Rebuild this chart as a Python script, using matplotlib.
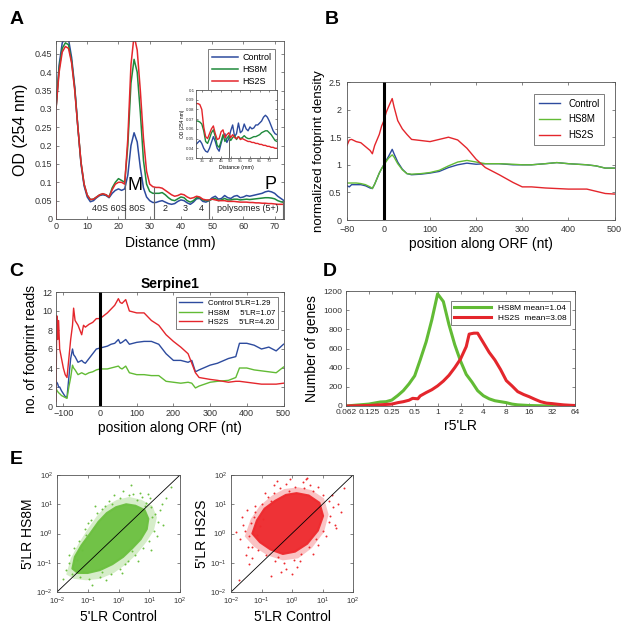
import numpy as np
import matplotlib
matplotlib.use("Agg")
import matplotlib.pyplot as plt
from matplotlib.patches import Polygon

plt.rcParams['font.family'] = ['Liberation Sans', 'DejaVu Sans']

# ---------------- Panel A data ----------------
a_dist = list(range(0, 74))
a_control = [0.30, 0.42, 0.48, 0.495, 0.49, 0.44, 0.36, 0.25, 0.15, 0.09, 0.06, 0.047, 0.05, 0.058, 0.064, 0.066,
             0.064, 0.058, 0.07, 0.078, 0.082, 0.078, 0.082, 0.12, 0.20, 0.235, 0.21, 0.14, 0.085, 0.06, 0.05, 0.045,
             0.045, 0.048, 0.05, 0.046, 0.042, 0.04, 0.042, 0.048, 0.052, 0.05, 0.044, 0.04, 0.046, 0.055, 0.056,
             0.048, 0.046, 0.05, 0.058, 0.062, 0.054, 0.056, 0.064, 0.058, 0.056, 0.062, 0.064, 0.058, 0.06, 0.064,
             0.062, 0.064, 0.066, 0.068, 0.07, 0.074, 0.076, 0.074, 0.07, 0.062, 0.056, 0.05]
a_hs8m = [0.30, 0.41, 0.465, 0.48, 0.475, 0.43, 0.355, 0.25, 0.155, 0.095, 0.065, 0.053, 0.054, 0.06, 0.066, 0.068,
          0.066, 0.06, 0.085, 0.10, 0.11, 0.105, 0.10, 0.20, 0.37, 0.435, 0.40, 0.29, 0.16, 0.095, 0.075, 0.07,
          0.07, 0.07, 0.072, 0.066, 0.058, 0.052, 0.05, 0.055, 0.06, 0.058, 0.05, 0.046, 0.05, 0.058, 0.058,
          0.052, 0.05, 0.05, 0.054, 0.056, 0.05, 0.052, 0.056, 0.052, 0.052, 0.054, 0.054, 0.052, 0.053, 0.054,
          0.053, 0.054, 0.055, 0.056, 0.057, 0.058, 0.058, 0.057, 0.055, 0.05, 0.047, 0.045]
a_hs2s = [0.30, 0.40, 0.455, 0.47, 0.465, 0.425, 0.35, 0.25, 0.155, 0.095, 0.065, 0.053, 0.054, 0.06, 0.066, 0.069,
          0.066, 0.06, 0.08, 0.095, 0.10, 0.10, 0.095, 0.22, 0.42, 0.50, 0.46, 0.35, 0.22, 0.13, 0.095, 0.088,
          0.086, 0.086, 0.084, 0.078, 0.072, 0.066, 0.062, 0.064, 0.068, 0.066, 0.06, 0.056, 0.058, 0.062, 0.06,
          0.054, 0.052, 0.052, 0.054, 0.052, 0.05, 0.05, 0.05, 0.048, 0.048, 0.048, 0.047, 0.046, 0.046, 0.046,
          0.045, 0.045, 0.044, 0.044, 0.043, 0.043, 0.042, 0.042, 0.041, 0.04, 0.04, 0.04]
a_dividers = [22.2, 31.5, 49.0, 72.6]
a_divider_tops = [0.10, 0.088, 0.055, 0.05]
a_fraction_labels = ["40S 60S 80S", "2", "3", "4", "polysomes (5+)"]
a_fraction_x = [20.0, 35.0, 41.5, 46.5, 61.5]

# inset
in_dist = [32, 33, 34, 35, 36, 37, 38, 39, 40, 41, 42, 43, 44, 45, 46, 47, 48, 49, 50, 51, 52, 53, 54, 55, 56, 57,
           58, 59, 60, 61, 62, 63, 64, 65, 66, 67, 68, 69, 70, 71, 72, 73, 74]
in_control = [0.044, 0.046, 0.048, 0.045, 0.040, 0.037, 0.036, 0.040, 0.046, 0.052, 0.047, 0.040, 0.037, 0.045,
              0.052, 0.055, 0.046, 0.050, 0.058, 0.064, 0.052, 0.055, 0.066, 0.056, 0.058, 0.065, 0.060, 0.058,
              0.062, 0.060, 0.061, 0.064, 0.064, 0.066, 0.068, 0.072, 0.074, 0.072, 0.068, 0.063, 0.058, 0.055, 0.054]
in_hs8m = [0.068, 0.068, 0.067, 0.065, 0.058, 0.047, 0.045, 0.050, 0.056, 0.059, 0.052, 0.043, 0.041, 0.047,
           0.054, 0.047, 0.050, 0.053, 0.048, 0.051, 0.053, 0.049, 0.052, 0.050, 0.051, 0.053, 0.051, 0.050,
           0.050, 0.051, 0.052, 0.052, 0.053, 0.054, 0.056, 0.057, 0.058, 0.058, 0.056, 0.054, 0.051, 0.048, 0.047]
in_hs2s = [0.086, 0.086, 0.085, 0.080, 0.062, 0.052, 0.050, 0.055, 0.060, 0.063, 0.055, 0.049, 0.050, 0.057,
           0.059, 0.051, 0.054, 0.056, 0.051, 0.054, 0.051, 0.050, 0.052, 0.049, 0.050, 0.049, 0.048, 0.047,
           0.047, 0.046, 0.046, 0.045, 0.045, 0.044, 0.044, 0.043, 0.043, 0.042, 0.042, 0.041, 0.041, 0.040, 0.040]

# ---------------- Panel B data ----------------
b_pos = [-80, -75, -70, -60, -50, -40, -30, -25, -20, -10, -5, 0, 5, 10, 18, 22, 30, 40, 50, 60, 80, 100, 120,
         140, 160, 180, 200, 220, 250, 280, 300, 320, 350, 375, 400, 440, 460, 480, 500]
b_control = [0.62, 0.60, 0.64, 0.64, 0.64, 0.62, 0.58, 0.57, 0.65, 0.85, 0.93, 1.00, 1.08, 1.15, 1.28, 1.20,
             1.05, 0.92, 0.84, 0.82, 0.83, 0.85, 0.88, 0.95, 1.00, 1.03, 1.01, 1.02, 1.02, 1.00, 1.00, 1.00,
             1.02, 1.04, 1.02, 1.00, 0.98, 0.94, 0.94]
b_hs8m = [0.67, 0.67, 0.67, 0.67, 0.66, 0.64, 0.60, 0.57, 0.65, 0.85, 0.93, 1.00, 1.06, 1.12, 1.18, 1.14,
          1.02, 0.91, 0.84, 0.83, 0.84, 0.86, 0.90, 0.98, 1.05, 1.08, 1.05, 1.02, 1.02, 1.01, 1.00, 1.00,
          1.02, 1.04, 1.02, 1.00, 0.98, 0.94, 0.94]
b_hs2s = [1.35, 1.45, 1.46, 1.42, 1.40, 1.33, 1.26, 1.20, 1.35, 1.55, 1.70, 1.80, 1.95, 2.05, 2.20, 2.05,
          1.80, 1.65, 1.55, 1.46, 1.44, 1.42, 1.46, 1.50, 1.45, 1.30, 1.10, 0.95, 0.82, 0.68, 0.60, 0.60,
          0.58, 0.57, 0.56, 0.56, 0.52, 0.48, 0.47]

# ---------------- Panel C data ----------------
c_pos = [-120, -118, -117, -115, -113, -110, -105, -100, -95, -90, -85, -80, -75, -72, -68, -60, -55, -50, -45,
         -40, -30, -20, -10, 0, 10, 20, 30, 40, 50, 55, 60, 70, 80, 100, 120, 140, 160, 180, 200, 220, 240, 250,
         260, 270, 300, 320, 350, 370, 380, 400, 420, 440, 460, 480, 500]
c_control = [2.3, 2.5, 2.4, 2.3, 2.0, 2.0, 1.6, 1.3, 1.0, 0.9, 3.0, 5.0, 6.0, 5.4, 5.2, 4.6, 4.7, 4.8, 4.6,
             4.5, 5.0, 5.5, 6.0, 6.1, 6.2, 6.3, 6.5, 6.6, 7.0, 6.6, 6.7, 7.0, 6.5, 6.7, 6.8, 6.8, 6.5, 5.5, 4.8,
             4.8, 4.6, 4.8, 3.6, 3.8, 4.3, 4.5, 5.0, 5.2, 6.6, 6.6, 6.4, 6.0, 6.2, 5.8, 6.5]
c_hs8m = [1.8, 1.7, 1.6, 1.5, 1.4, 1.3, 1.1, 1.0, 0.9, 0.8, 2.0, 3.0, 4.3, 4.0, 3.8, 3.3, 3.4, 3.5, 3.4,
          3.3, 3.5, 3.6, 3.8, 3.9, 3.9, 3.9, 4.0, 4.1, 4.2, 4.0, 3.9, 4.2, 3.5, 3.3, 3.3, 3.2, 3.2, 2.6, 2.5,
          2.4, 2.5, 2.4, 1.9, 2.1, 2.5, 2.6, 2.7, 3.0, 4.0, 4.0, 3.8, 3.7, 3.6, 3.5, 4.1]
c_hs2s = [0.5, 9.5, 9.2, 7.0, 9.0, 6.0, 5.0, 4.0, 3.3, 3.0, 5.0, 7.0, 8.5, 10.3, 9.0, 8.5, 8.0, 7.5, 8.5,
          8.3, 8.6, 8.8, 9.2, 9.2, 9.5, 9.8, 10.2, 10.6, 11.3, 10.9, 10.8, 11.2, 10.0, 9.8, 9.8, 9.0, 8.5,
          7.5, 6.8, 6.2, 5.5, 4.5, 3.5, 3.0, 2.8, 2.7, 2.5, 2.6, 2.6, 2.5, 2.4, 2.3, 2.3, 2.3, 2.4]
c_legend = ["Control 5'LR=1.29", "HS8M     5'LR=1.07", "HS2S     5'LR=4.20"]

# ---------------- Panel D data ----------------
d_r_green = [0.0625, 0.125, 0.177, 0.21, 0.25, 0.30, 0.354, 0.42, 0.5, 0.59, 0.707, 0.84, 1.0, 1.19, 1.41,
             1.68, 2.0, 2.38, 2.83, 3.36, 4.0, 4.76, 5.66, 6.73, 8.0, 9.5, 11.3, 16, 32, 64]
d_n_green = [0, 20, 42, 45, 62, 110, 160, 230, 315, 480, 670, 900, 1170, 1090, 850, 640, 470, 330, 250, 160,
             107, 75, 55, 45, 35, 20, 12, 5, 0, 0]
d_r_red = [0.0625, 0.125, 0.25, 0.30, 0.354, 0.42, 0.47, 0.5, 0.55, 0.59, 0.707, 0.84, 1.0, 1.19, 1.41, 1.68,
           2.0, 2.38, 2.6, 3.0, 3.36, 3.6, 4.0, 4.76, 5.66, 6.73, 8.0, 9.5, 11.3, 13.5, 16, 19, 22.6, 27, 32,
           38, 45, 54, 64]
d_n_red = [0, 5, 20, 35, 45, 60, 80, 78, 75, 105, 140, 170, 210, 260, 320, 400, 490, 620, 750, 760, 760, 720,
           660, 560, 480, 380, 265, 210, 150, 120, 97, 70, 45, 30, 25, 18, 12, 8, 5]
d_ticks = [0.0625, 0.125, 0.25, 0.5, 1, 2, 4, 8, 16, 32, 64]
d_ticklabels = ["0.062", "0.125", "0.25", "0.5", "1", "2", "4", "8", "16", "32", "64"]
d_legend = ["HS8M mean=1.04", "HS2S  mean=3.08"]

# ---------------- Panel E data (log10 coordinates) ----------------
# dense core outline
e1_core_lx = [-1.50, -1.42, -1.20, -0.92, -0.65, -0.38, -0.08, 0.25, 0.55, 0.85, 0.97, 0.92, 0.72, 0.45, 0.15,
              -0.20, -0.60, -1.00, -1.32]
e1_core_ly = [-1.20, -0.80, -0.40, 0.00, 0.40, 0.70, 0.90, 1.00, 0.95, 0.80, 0.50, 0.15, -0.20, -0.50, -0.80,
              -1.05, -1.25, -1.35, -1.35]
# sparser fringe outline
e1_halo_lx = [-1.70, -1.55, -1.30, -1.00, -0.70, -0.40, -0.05, 0.35, 0.75, 1.10, 1.25, 1.15, 0.90, 0.60, 0.25,
              -0.15, -0.60, -1.05, -1.45]
e1_halo_ly = [-1.40, -0.85, -0.35, 0.15, 0.60, 0.95, 1.15, 1.25, 1.15, 0.95, 0.55, 0.10, -0.30, -0.70, -1.05,
              -1.35, -1.55, -1.60, -1.55]
e1_pts_lx = [-1.60, -1.72, -1.45, -1.30, -1.10, -0.90, -0.70, -0.45, -0.30, 0.05, 0.35, 0.60, 0.90, 1.05, 1.20,
             1.30, 1.15, 1.00, 0.80, 0.55, 0.30, 0.05, -0.25, -0.60, -0.95, -1.25, -1.50, 0.95, 1.40, 0.70, -1.05,
             -0.80, 1.10, 0.45, -0.20, -1.35, 1.55, 0.20, -0.55, 0.85, -1.80, -1.62, -1.20, -0.98, -0.55, -0.15,
             0.15, 0.48, 0.78, 1.02, 1.35, 1.45, 1.25, 0.62, 0.10, -0.40, -0.85, -1.15, 1.70, 0.40, -0.75, 1.05]
e1_pts_ly = [-1.00, -1.25, -0.50, -0.25, 0.15, 0.45, 0.70, 0.95, 1.10, 1.20, 1.30, 1.15, 1.05, 0.90, 0.65,
             0.40, 0.10, -0.25, -0.50, -0.75, -0.95, -1.20, -1.40, -1.50, -1.55, -1.50, -1.40, 1.35, 1.00, 1.40,
             -0.05, 0.20, 0.55, -0.60, 1.00, -0.90, 1.20, -1.05, -1.30, 0.95, -1.55, -0.75, -0.55, 0.35, 0.85,
             1.30, 1.45, 1.35, 1.25, 1.20, 0.80, 0.30, -0.10, -0.95, -1.35, -1.60, -1.75, -1.30, 1.60, 1.65,
             0.95, -0.55]
e2_core_lx = [-1.30, -1.15, -0.90, -0.55, -0.20, 0.15, 0.55, 0.90, 1.02, 0.85, 0.50, 0.10, -0.30, -0.70, -1.05]
e2_core_ly = [0.00, 0.45, 0.85, 1.12, 1.32, 1.38, 1.30, 1.05, 0.60, 0.10, -0.35, -0.62, -0.70, -0.55, -0.30]
e2_halo_lx = [-1.55, -1.35, -1.05, -0.65, -0.25, 0.20, 0.65, 1.05, 1.20, 1.05, 0.65, 0.20, -0.30, -0.80, -1.25]
e2_halo_ly = [-0.10, 0.50, 0.95, 1.30, 1.52, 1.58, 1.48, 1.20, 0.65, 0.05, -0.50, -0.85, -0.92, -0.75, -0.45]
e2_pts_lx = [-1.70, -1.55, -1.45, -1.35, -1.60, -1.20, -1.40, -1.00, -0.80, -0.60, -0.40, -0.20, 0.10, 0.40,
             0.70, 1.00, 1.20, 1.35, 1.50, 1.20, 1.00, 0.80, 0.55, 0.30, 0.05, -0.25, -0.55, -0.85, -1.10, -1.30,
             -1.50, -1.15, -0.95, 0.95, 1.25, 0.60, -0.70, -0.35, 0.15, 0.45, -1.75, -1.05, 1.40, 0.85, -0.10,
             -1.25, -0.45, 0.25, -1.85, -1.65, -1.48, -1.30, -0.90, -0.50, -0.05, 0.35, 0.85, 1.30, 1.60, 1.45,
             1.10, 0.70, -0.20, -0.70, -1.40, -1.20, 1.70, 0.00, -0.60, 0.50]
e2_pts_ly = [-0.20, 0.10, -0.45, 0.35, 0.30, 0.75, -0.10, 1.00, 1.25, 1.40, 1.55, 1.70, 1.60, 1.55, 1.45, 1.30,
             1.10, 0.90, 1.00, 0.40, 0.10, -0.20, -0.45, -0.70, -0.90, -1.00, -0.95, -0.75, -0.55, -0.45, -0.75,
             -0.05, 0.50, 0.70, 0.60, 1.65, 1.10, -1.30, -1.15, 1.85, -1.60, 0.25, 0.30, -0.40, 1.45, 0.55,
             -0.80, -0.95, 0.05, 0.55, 0.80, -0.85, 1.40, 1.80, 1.85, 1.75, 1.60, 1.30, 0.75, 0.20, -0.10,
             -0.70, -1.20, -1.45, -1.05, 0.95, 1.55, -1.40, 1.65, 1.90]

# ---------------- colors ----------------
C_BLUE = '#2D4B9E'
C_GREEN_A = '#1F8A3C'
C_GREEN = '#62BB35'
C_RED = '#E4262C'

fig = plt.figure(figsize=(6.3, 6.3), dpi=100)


def style(ax, labelsize=6.5):
    ax.tick_params(direction='in', length=2.5, width=0.5, colors='#555555', labelsize=labelsize,
                   top=True, right=True, labelcolor='#333333', pad=2.5)
    for s in ax.spines.values():
        s.set_linewidth(0.6)
        s.set_color('#555555')


def px(l, t, r, b):
    return [l / 630, 1 - b / 630, (r - l) / 630, (b - t) / 630]


# ---------------- Panel A ----------------
axA = fig.add_axes(px(56, 41, 284, 219))
axA.plot(a_dist, a_control, color=C_BLUE, lw=1.1, label='Control')
axA.plot(a_dist, a_hs8m, color=C_GREEN_A, lw=1.1, label='HS8M')
axA.plot(a_dist, a_hs2s, color=C_RED, lw=1.1, label='HS2S')
axA.plot([0, 0], [0, a_hs2s[0]], color='#E8607A', lw=1.2)
axA.vlines(a_dividers, 0, a_divider_tops, colors='#666666', lw=0.8)
for lab, xx in zip(a_fraction_labels, a_fraction_x):
    axA.text(xx, 0.028, lab, ha='center', va='center', fontsize=6.5, color='#222222')
axA.text(25.3, 0.092, 'M', fontsize=13, ha='center', va='center')
axA.text(68.8, 0.093, 'P', fontsize=13, ha='center', va='center')
axA.set_xlim(0, 73)
axA.set_ylim(0, 0.485)
axA.set_xticks(range(0, 71, 10))
axA.set_yticks(np.arange(0, 0.46, 0.05))
axA.set_yticklabels(['0', '0.05', '0.1', '0.15', '0.2', '0.25', '0.3', '0.35', '0.4', '0.45'])
style(axA)
axA.set_ylabel('OD (254 nm)', fontsize=11.5, labelpad=5)
axA.set_xlabel('Distance (mm)', fontsize=10, labelpad=3)
legA = axA.legend(loc='upper right', fontsize=6.5, handlelength=2.9, fancybox=False, edgecolor='#444444',
                  borderpad=0.4, labelspacing=0.35, handletextpad=0.5, bbox_to_anchor=(0.98, 0.98))
legA.get_frame().set_linewidth(0.6)

# inset
axI = fig.add_axes(px(196, 90, 277, 158))
axI.plot(in_dist, in_control, color=C_BLUE, lw=1.0)
axI.plot(in_dist, in_hs8m, color=C_GREEN_A, lw=1.0)
axI.plot(in_dist, in_hs2s, color=C_RED, lw=1.0)
axI.vlines([49], 0.03, 0.05, colors='#444444', lw=0.6)
axI.set_xlim(32, 74)
axI.set_ylim(0.03, 0.1)
axI.set_xticks(range(35, 71, 5))
axI.set_yticks([0.03, 0.04, 0.05, 0.06, 0.07, 0.08, 0.09, 0.1])
axI.set_yticklabels(['0.03', '0.04', '0.05', '0.06', '0.07', '0.08', '0.09', '0.1'])
style(axI, labelsize=3.2)
axI.tick_params(length=1.2, pad=1)
axI.set_xlabel('Distance (mm)', fontsize=3.8, labelpad=1)
axI.set_ylabel('OD (254 nm)', fontsize=3.5, labelpad=1)

# ---------------- Panel B ----------------
axB = fig.add_axes(px(347, 82, 614.5, 220))
axB.plot(b_pos, b_control, color=C_BLUE, lw=1.0, label='Control')
axB.plot(b_pos, b_hs8m, color=C_GREEN, lw=1.0, label='HS8M')
axB.plot(b_pos, b_hs2s, color=C_RED, lw=1.0, label='HS2S')
axB.axvline(0, color='black', lw=2.2)
axB.set_xlim(-80, 500)
axB.set_ylim(0, 2.5)
axB.set_xticks([-80, 0, 100, 200, 300, 400, 500])
axB.set_yticks([0, 0.5, 1, 1.5, 2, 2.5])
axB.set_yticklabels(['0', '0.5', '1', '1.5', '2', '2.5'])
style(axB)
axB.tick_params(axis='y', pad=4)
axB.tick_params(axis='x', pad=3.5)
axB.set_ylabel('normalized footprint density', fontsize=9.5, labelpad=3)
axB.set_xlabel('position along ORF (nt)', fontsize=10, labelpad=2)
legB = axB.legend(loc='upper right', fontsize=7, handlelength=2.2, fancybox=False, edgecolor='#444444',
                  borderpad=0.5, labelspacing=0.6, bbox_to_anchor=(0.98, 0.95))
legB.get_frame().set_linewidth(0.6)

# ---------------- Panel C ----------------
axC = fig.add_axes(px(56, 292, 283.5, 406))
axC.plot(c_pos, c_control, color=C_BLUE, lw=1.0, label=c_legend[0])
axC.plot(c_pos, c_hs8m, color=C_GREEN, lw=1.0, label=c_legend[1])
axC.plot(c_pos, c_hs2s, color=C_RED, lw=1.0, label=c_legend[2])
axC.axvline(0, color='black', lw=2.2)
axC.set_xlim(-120, 500)
axC.set_ylim(0, 12)
axC.set_xticks([-100, 0, 100, 200, 300, 400, 500])
axC.set_yticks(range(0, 13, 2))
style(axC)
axC.set_title('Serpine1', fontsize=10, fontweight='bold', pad=3)
axC.set_ylabel('no. of footprint reads', fontsize=10, labelpad=3)
axC.set_xlabel('position along ORF (nt)', fontsize=10, labelpad=2)
legC = axC.legend(loc='upper right', fontsize=5.6, handlelength=3.0, fancybox=False, edgecolor='#444444',
                  borderpad=0.35, labelspacing=0.25, bbox_to_anchor=(0.995, 0.99))
legC.get_frame().set_linewidth(0.6)

# ---------------- Panel D ----------------
axD = fig.add_axes(px(346, 291, 575, 406))
axD.plot(d_r_green, d_n_green, color=C_GREEN, lw=2.2, label=d_legend[0])
axD.plot(d_r_red, d_n_red, color=C_RED, lw=2.2, label=d_legend[1])
axD.set_xscale('log', base=2)
axD.set_xlim(0.0625, 64)
axD.set_ylim(0, 1200)
axD.set_xticks(d_ticks)
axD.set_xticklabels(d_ticklabels)
axD.minorticks_off()
axD.set_yticks(range(0, 1201, 200))
style(axD, labelsize=6)
axD.set_ylabel('Number of genes', fontsize=10, labelpad=3)
axD.set_xlabel("r5'LR", fontsize=10, labelpad=2)
legD = axD.legend(loc='upper right', fontsize=6, handlelength=4.5, fancybox=False, edgecolor='#444444',
                  borderpad=0.35, labelspacing=0.25, bbox_to_anchor=(0.995, 0.95))
legD.get_frame().set_linewidth(0.6)


# ---------------- Panel E ----------------
def scatter_panel(ax, core_lx, core_ly, halo_lx, halo_ly, pts_lx, pts_ly, color, ylabel):
    ax.set_xscale('log')
    ax.set_yscale('log')
    halo = np.column_stack([10 ** np.array(halo_lx), 10 ** np.array(halo_ly)])
    ax.add_patch(Polygon(halo, closed=True, facecolor=color, edgecolor='none', alpha=0.28))
    core = np.column_stack([10 ** np.array(core_lx), 10 ** np.array(core_ly)])
    ax.add_patch(Polygon(core, closed=True, facecolor=color, edgecolor=color, lw=1.5, alpha=0.95,
                         joinstyle='round'))
    ax.scatter(10 ** np.array(pts_lx), 10 ** np.array(pts_ly), s=2.0, color=color, lw=0)
    ax.plot([1e-2, 1e2], [1e-2, 1e2], color='black', lw=0.6)
    ax.set_xlim(1e-2, 1e2)
    ax.set_ylim(1e-2, 1e2)
    ax.set_xticks([1e-2, 1e-1, 1, 1e1, 1e2])
    ax.set_yticks([1e-2, 1e-1, 1, 1e1, 1e2])
    ax.minorticks_off()
    style(ax, labelsize=5.5)
    ax.tick_params(pad=3)
    ax.set_xlabel("5'LR Control", fontsize=10, labelpad=2)
    ax.set_ylabel(ylabel, fontsize=10, labelpad=1)


axE1 = fig.add_axes(px(57, 475, 180, 592))
scatter_panel(axE1, e1_core_lx, e1_core_ly, e1_halo_lx, e1_halo_ly, e1_pts_lx, e1_pts_ly, '#6CC040',
              "5'LR HS8M")
axE2 = fig.add_axes(px(231, 475, 353, 592))
scatter_panel(axE2, e2_core_lx, e2_core_ly, e2_halo_lx, e2_halo_ly, e2_pts_lx, e2_pts_ly, '#EE2A2E',
              "5'LR HS2S")

# panel letters
for lab, x, y in [('A', 17, 20), ('B', 332, 20), ('C', 16, 272), ('D', 330, 272), ('E', 16, 460)]:
    fig.text(x / 630, 1 - y / 630, lab, fontsize=14, fontweight='bold', ha='center', va='center')

fig.savefig('out.png', dpi=100)
